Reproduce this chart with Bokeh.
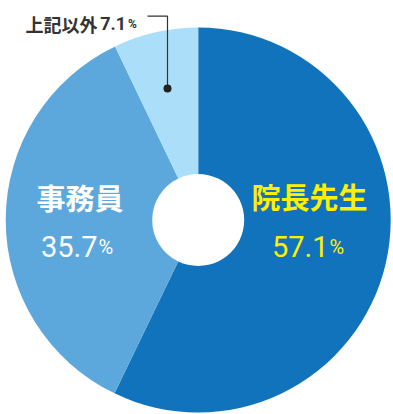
import math
from bokeh.plotting import figure
from bokeh.models import Range1d, ColumnDataSource
from bokeh.core.properties import value
from bokeh.embed import file_html
from bokeh.resources import INLINE

# ---- data ----
categories = ["院長先生", "事務員", "上記以外"]
shares = [57.1, 35.7, 7.1]
pct_labels = ["57.1", "35.7", "7.1"]
colors = ["#1173BB", "#5CA8DC", "#ABDEF8"]

W, H = 393, 414
CX, CY = 197.7, 219.5          # pixel coords of centre
R_OUT, R_IN = 192.5, 46


def py(y):  # pixel y -> data y
    return H - y


total = sum(shares)
starts, ends = [], []
acc = 0.0
for s in shares:
    starts.append(math.pi / 2 - 2 * math.pi * acc / total)
    acc += s
    ends.append(math.pi / 2 - 2 * math.pi * acc / total)

p = figure(width=W, height=H, output_backend="svg", toolbar_location=None,
           x_range=Range1d(0, W), y_range=Range1d(0, H),
           min_border=0, outline_line_color=None)
p.axis.visible = False
p.grid.visible = False
p.background_fill_color = "white"
p.border_fill_color = "white"

src = ColumnDataSource(dict(x=[CX] * 3, y=[py(CY)] * 3, start=starts, end=ends,
                            color=colors, cat=categories))
p.annular_wedge(x="x", y="y", inner_radius=R_IN, outer_radius=R_OUT,
                start_angle="start", end_angle="end", direction="clock",
                fill_color="color", line_color=None, source=src)

CJK = value("Noto Sans CJK JP")
NUM = value("Roboto")

# 院長先生
p.text(x=[309], y=[py(195)], text=[categories[0]], text_font=CJK,
       text_font_size="29px", text_font_style="bold", text_color="#FFF000",
       text_align="center", text_baseline="middle")
p.text(x=[328], y=[py(246)], text=[pct_labels[0]], text_font=NUM,
       text_font_size="29px", text_color="#FFF000",
       text_align="right", text_baseline="alphabetic")
p.text(x=[329], y=[py(246)], text=["%"], text_font=NUM,
       text_font_size="20px", text_color="#FFF000",
       text_align="left", text_baseline="alphabetic")

# 事務員
p.text(x=[79.5], y=[py(196.5)], text=[categories[1]], text_font=CJK,
       text_font_size="29px", text_font_style="bold", text_color="white",
       text_align="center", text_baseline="middle")
p.text(x=[97], y=[py(246)], text=[pct_labels[1]], text_font=NUM,
       text_font_size="29px", text_color="white",
       text_align="right", text_baseline="alphabetic")
p.text(x=[98], y=[py(246)], text=["%"], text_font=NUM,
       text_font_size="20px", text_color="white",
       text_align="left", text_baseline="alphabetic")

# 上記以外
p.text(x=[25], y=[py(23)], text=[categories[2]], text_font=CJK,
       text_font_size="18px", text_font_style="bold", text_color="#333333",
       text_align="left", text_baseline="alphabetic")
p.text(x=[125.5], y=[py(23)], text=[pct_labels[2]], text_font=NUM,
       text_font_size="18px", text_font_style="bold", text_color="#333333",
       text_align="right", text_baseline="alphabetic")
p.text(x=[127.5], y=[py(23)], text=["%"], text_font=NUM,
       text_font_size="12px", text_font_style="bold", text_color="#333333",
       text_align="left", text_baseline="alphabetic")

# leader line
p.line(x=[147, 167, 167], y=[py(15.7), py(15.7), py(88)], line_color="#333333",
       line_width=1.2)
p.scatter(x=[167], y=[py(88)], size=8, marker="circle", fill_color="#222222",
          line_color=None)

open("out.html", "w").write(file_html(p, INLINE))
